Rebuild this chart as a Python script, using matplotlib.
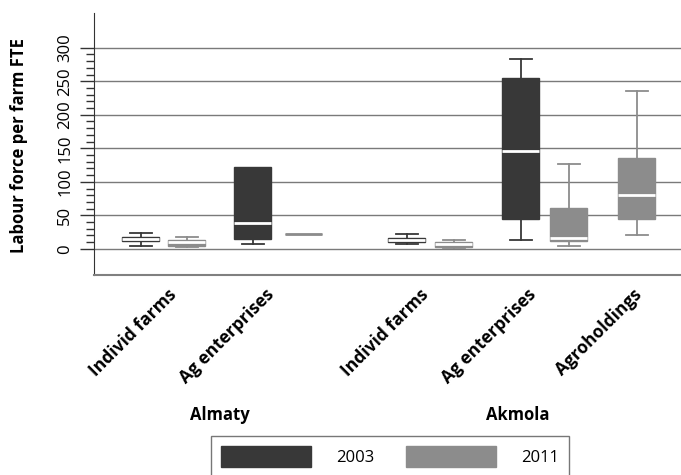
"""Labour force per farm FTE by farm type, Almaty and Akmola, 2003 vs 2011."""

import matplotlib
matplotlib.use("Agg")
import matplotlib.pyplot as plt
from matplotlib.patches import Patch
from matplotlib.ticker import FixedLocator

plt.rcParams["font.family"] = ["Open Sans", "DejaVu Sans"]

# farm types along the x axis
categories = ["Individ farms", "Ag enterprises", "Individ farms",
              "Ag enterprises", "Agroholdings"]
regions = ["Almaty", "Akmola"]
years = ["2003", "2011"]

# box statistics per farm type (None = no data for that year)
whislo_2003 = [4.5, 8, 8, 13, None]
q1_2003 = [12, 14.5, 10, 44, None]
med_2003 = [15, 38, 13, 146, None]
q3_2003 = [17.5, 122, 16, 255, None]
whishi_2003 = [23.5, 122, 22, 283, None]

whislo_2011 = [3, 22, 2, 4.5, 20]
q1_2011 = [5, 22, 3, 12, 44]
med_2011 = [10, 22, 7, 15.5, 81]
q3_2011 = [12.5, 22, 10, 61, 135]
whishi_2011 = [17.5, 22, 13, 126, 235]

# layout: slot positions (x units) of each box and of each label
pos_2003 = [0.94, 3.18, 6.26, 8.54, None]
pos_2011 = [1.86, 4.20, 7.20, 9.50, 10.86]
label_pos = [1.60, 3.54, 6.64, 8.78, 10.90]

DARK = "#383838"
GRAY = "#8c8c8c"


def stats(lo, q1, med, q3, hi, pos):
    out, where = [], []
    for a, b, c, d, e, p in zip(lo, q1, med, q3, hi, pos):
        if a is None:
            continue
        out.append(dict(whislo=a, q1=b, med=c, q3=d, whishi=e, fliers=[]))
        where.append(p)
    return out, where


fig = plt.figure(figsize=(6.81, 4.75), dpi=100)
ax = fig.add_axes([0.138, 0.421, 0.862, 0.552])

ax.set_ylim(-39, 352)
ax.set_xlim(0, 11.74)
for v in range(0, 301, 50):
    ax.axhline(v, color="#7a7a7a", lw=1, zorder=0)

for year, color, cols in [
        ("2003", DARK, (whislo_2003, q1_2003, med_2003, q3_2003, whishi_2003, pos_2003)),
        ("2011", GRAY, (whislo_2011, q1_2011, med_2011, q3_2011, whishi_2011, pos_2011))]:
    st, where = stats(*cols)
    art = ax.bxp(st, positions=where, widths=0.74, patch_artist=True,
                 showfliers=False, manage_ticks=False,
                 boxprops=dict(facecolor=color, edgecolor=color, lw=1, zorder=3),
                 whiskerprops=dict(color=color, lw=1.3, zorder=2),
                 capprops=dict(color=color, lw=1.3, zorder=2),
                 medianprops=dict(color="white", lw=2, zorder=4),
                 capwidths=0.44)
    for i, s in enumerate(st):
        # a flat box shows as a single grey line
        if s["q1"] == s["q3"]:
            art["medians"][i].set_color(color)
        # no whisker beyond the box -> no cap either
        if s["whislo"] == s["q1"]:
            art["caps"][2 * i].set_visible(False)
        if s["whishi"] == s["q3"]:
            art["caps"][2 * i + 1].set_visible(False)

ax.set_yticks(range(0, 301, 50))
ax.yaxis.set_minor_locator(FixedLocator([v for v in range(10, 300, 10) if v % 50]))
ax.tick_params(axis="y", which="major", length=10, width=1, color="#333333",
               labelrotation=90, labelsize=12, pad=5)
ax.tick_params(axis="y", which="minor", length=6, width=1, color="#333333")
for t in ax.get_yticklabels():
    t.set_va("center")

ax.set_xticks(label_pos)
ax.set_xticklabels(categories, rotation=45, ha="right", va="center",
                   rotation_mode="anchor", fontsize=12.5, fontweight="bold")
ax.tick_params(axis="x", length=0, pad=12)

ax.set_ylabel("Labour force per farm FTE", fontsize=12, fontweight="bold")
ax.yaxis.set_label_coords(-0.113, 0.494)

for side in ["top", "right"]:
    ax.spines[side].set_visible(False)
ax.spines["left"].set_color("#333333")
ax.spines["bottom"].set_color("#808080")
ax.spines["bottom"].set_linewidth(1.5)

fig.text(220 / 681, 1 - 415 / 475, regions[0], ha="center", va="center",
         fontsize=12, fontweight="bold")
fig.text(518 / 681, 1 - 415 / 475, regions[1], ha="center", va="center",
         fontsize=12, fontweight="bold")

handles = [Patch(facecolor=DARK, edgecolor=DARK), Patch(facecolor=GRAY, edgecolor=GRAY)]
leg = fig.legend(handles, years, loc="upper center", ncol=2,
                 bbox_to_anchor=(390 / 681, 1 - 436 / 475), frameon=True,
                 fancybox=False, handlelength=5.4, handleheight=1.6,
                 handletextpad=1.5, columnspacing=1.9, fontsize=12,
                 borderpad=0.6, borderaxespad=0)
leg.get_frame().set_edgecolor("#555555")
leg.get_frame().set_linewidth(1)

fig.savefig("out.png", dpi=100)
